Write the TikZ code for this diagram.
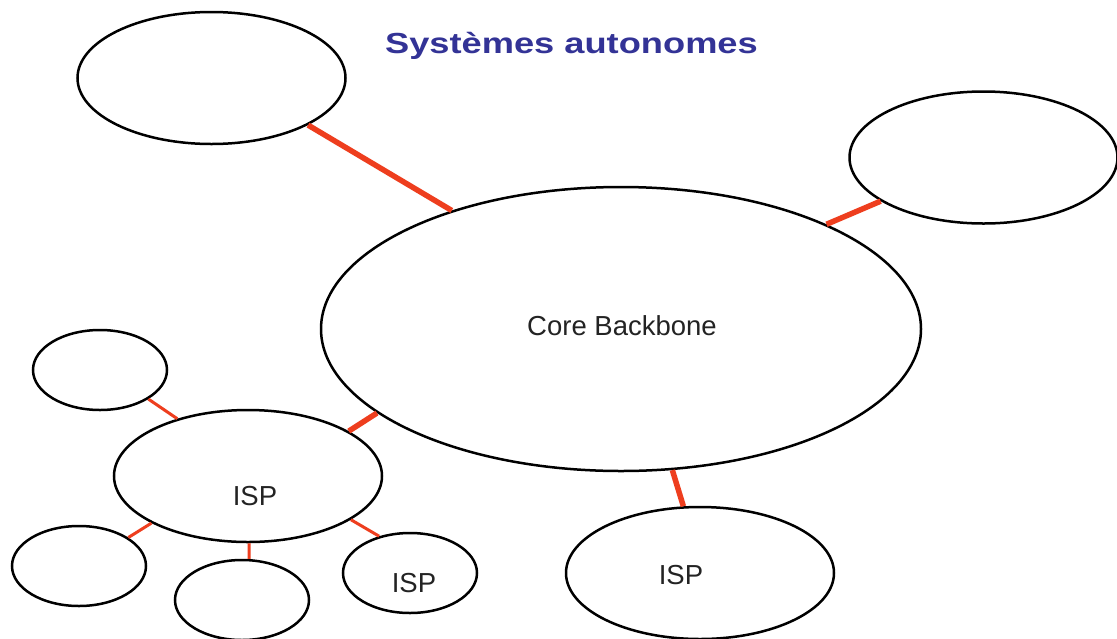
\documentclass[tikz,border=0pt]{standalone}
\usepackage{fontspec}
\setmainfont{Liberation Sans}
\usetikzlibrary{shapes.geometric}
\definecolor{linkred}{RGB}{238,62,30}
\definecolor{titleblue}{RGB}{51,51,150}
\definecolor{labelgray}{RGB}{35,35,35}
\tikzset{
  asbox/.style={draw=black, line width=2.5pt, ellipse, inner sep=0pt, fill=white},
  bigas/.style={asbox, minimum width=268pt, minimum height=132pt},
  smallas/.style={asbox, minimum width=134pt, minimum height=80pt},
  corebox/.style={asbox, minimum width=600pt, minimum height=284pt},
  thicklink/.style={draw=linkred, line width=5.5pt},
  thinlink/.style={draw=linkred, line width=3pt},
  lbl/.style={font=\fontsize{27.5}{30}\selectfont, text=labelgray, inner sep=0pt, anchor=base}
}
\begin{document}
\begin{tikzpicture}[x=1pt, y=-1pt]
\useasboundingbox[fill=white] (0,0) rectangle (1117,638);
\node[bigas] (tl) at (211.5,78) {};
\node[bigas] (tr) at (983.5,157.5) {};
\node[corebox] (core) at (621,329) {};
\node[smallas] (sa) at (100,370) {};
\node[bigas] (isp1) at (248,476) {};
\node[smallas] (sb) at (79,566) {};
\node[smallas] (sc) at (242,600) {};
\node[smallas] (sd) at (410,573) {};
\node[bigas] (isp2) at (700,573) {};

\draw[thicklink] (tl.-26.7) -- (core.145.1);
\draw[thicklink] (tr.203.3) -- (core.27.4);
\draw[thicklink] (core.199.8) -- (isp1.24.9);
\draw[thicklink] (core.-70.5) -- (isp2.104.7);
\draw[thinlink] (sa.-31.9) -- (isp1.141.2);
\draw[thinlink] (isp1.206.1) -- (sb.30.3);
\draw[thinlink] (isp1.-89.6) -- (sc.80);
\draw[thinlink] (isp1.-23.3) -- (sd.130.6);

\node[anchor=base, inner sep=0pt, text=titleblue,
      font=\bfseries\fontsize{29}{32}\selectfont] (title) at (571.5,53)
      {\scalebox{1.25}[1]{Systèmes autonomes}};
\node[lbl] (corelbl) at (622,335) {Core Backbone};
\node[lbl] (isp1lbl) at (255,505) {ISP};
\node[lbl] (isp2lbl) at (681,584) {ISP};
\node[lbl] (sdlbl) at (414,592) {ISP};
\end{tikzpicture}
\end{document}
